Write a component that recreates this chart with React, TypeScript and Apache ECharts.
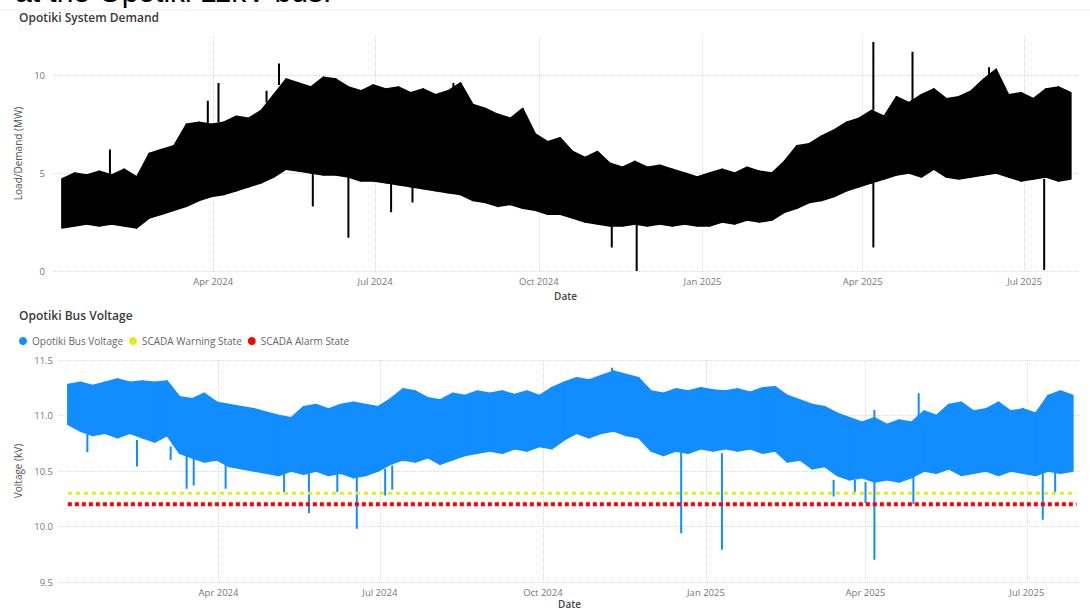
import React, { useEffect, useRef } from "react";
import * as echarts from "echarts";

// ---------- data ----------
const WEEK_START = "2024-01-07"; // first weekly sample
const AXIS_MIN = "2024-01-02";
const AXIS_MAX = "2025-07-31";
const quarterTicks = ["2024-04-01", "2024-07-01", "2024-10-01", "2025-01-01", "2025-04-01", "2025-07-01"];
const monthNames = ["Jan", "Feb", "Mar", "Apr", "May", "Jun", "Jul", "Aug", "Sep", "Oct", "Nov", "Dec"];

// weekly envelope of the system demand (MW)
const demandHigh = [
  4.7, 5.0, 4.9, 5.1, 4.9, 5.2, 4.8, 6.0, 6.2, 6.4,
  7.5, 7.6, 7.5, 7.6, 7.9, 7.8, 8.2, 9.0, 9.8, 9.6,
  9.4, 9.9, 9.8, 9.4, 9.2, 9.5, 9.3, 9.4, 9.1, 9.3,
  9.0, 9.2, 9.6, 8.5, 8.3, 8.0, 7.8, 8.3, 7.0, 6.6,
  6.8, 6.1, 5.8, 6.1, 5.5, 5.3, 5.6, 5.3, 5.4, 5.2,
  5.0, 4.8, 5.0, 5.2, 5.0, 5.3, 5.1, 5.0, 5.6, 6.4,
  6.5, 6.9, 7.2, 7.6, 7.8, 8.2, 7.9, 8.9, 8.6, 9.0,
  9.3, 8.8, 8.9, 9.2, 9.8, 10.3, 9.0, 9.1, 8.8, 9.3,
  9.4, 9.1,
];
const demandLow = [
  2.2, 2.3, 2.4, 2.3, 2.4, 2.3, 2.2, 2.7, 2.9, 3.1,
  3.3, 3.6, 3.8, 3.9, 4.1, 4.3, 4.5, 4.8, 5.2, 5.1,
  5.0, 4.9, 4.9, 4.8, 4.6, 4.6, 4.5, 4.4, 4.3, 4.2,
  4.1, 4.0, 3.9, 3.6, 3.5, 3.3, 3.4, 3.2, 3.1, 2.9,
  2.9, 2.7, 2.5, 2.4, 2.3, 2.3, 2.4, 2.3, 2.4, 2.3,
  2.4, 2.3, 2.3, 2.5, 2.4, 2.6, 2.5, 2.6, 3.0, 3.2,
  3.5, 3.6, 3.8, 4.1, 4.3, 4.5, 4.7, 4.9, 5.0, 4.8,
  5.2, 4.8, 4.7, 4.8, 4.9, 5.0, 4.8, 4.6, 4.7, 4.8,
  4.6, 4.7,
];
// isolated demand excursions: [date, from, to]
const demandSpikes: [string, number, number][] = [
  ["2024-02-03", 4.9, 6.2],
  ["2024-03-29", 7.5, 8.7],
  ["2024-04-04", 7.6, 9.6],
  ["2024-05-01", 8.6, 9.2],
  ["2024-05-08", 9.5, 10.6],
  ["2024-05-27", 5.0, 3.3],
  ["2024-06-16", 4.8, 1.7],
  ["2024-07-10", 4.5, 3.0],
  ["2024-07-22", 4.4, 3.5],
  ["2024-08-14", 9.0, 9.6],
  ["2024-11-11", 2.4, 1.2],
  ["2024-11-25", 2.4, 0.0],
  ["2025-04-07", 8.2, 11.7],
  ["2025-04-07", 4.5, 1.2],
  ["2025-04-29", 8.6, 11.2],
  ["2025-06-11", 9.8, 10.4],
  ["2025-07-12", 4.7, 0.05],
];

// weekly envelope of the bus voltage (kV)
const voltageHigh = [
  11.28, 11.30, 11.27, 11.30, 11.33, 11.30, 11.31, 11.30, 11.31, 11.17,
  11.15, 11.20, 11.12, 11.10, 11.08, 11.06, 11.03, 11.00, 10.98, 11.08,
  11.10, 11.06, 11.10, 11.12, 11.10, 11.08, 11.15, 11.24, 11.22, 11.16,
  11.14, 11.20, 11.18, 11.22, 11.20, 11.22, 11.19, 11.22, 11.18, 11.25,
  11.30, 11.34, 11.32, 11.36, 11.40, 11.37, 11.34, 11.22, 11.20, 11.24,
  11.22, 11.25, 11.23, 11.22, 11.24, 11.21, 11.25, 11.26, 11.18, 11.14,
  11.10, 11.08, 11.02, 10.98, 10.94, 10.98, 10.92, 10.96, 10.94, 11.04,
  11.00, 11.10, 11.12, 11.04, 11.06, 11.12, 11.04, 11.06, 11.02, 11.18,
  11.22, 11.18,
];
const voltageLow = [
  10.92, 10.86, 10.82, 10.84, 10.80, 10.84, 10.80, 10.76, 10.82, 10.66,
  10.62, 10.58, 10.60, 10.54, 10.52, 10.50, 10.48, 10.46, 10.50, 10.47,
  10.50, 10.46, 10.48, 10.44, 10.46, 10.50, 10.56, 10.60, 10.58, 10.62,
  10.56, 10.60, 10.64, 10.66, 10.68, 10.66, 10.70, 10.68, 10.72, 10.70,
  10.78, 10.84, 10.80, 10.84, 10.86, 10.82, 10.80, 10.68, 10.64, 10.68,
  10.66, 10.70, 10.68, 10.70, 10.68, 10.70, 10.66, 10.68, 10.58, 10.60,
  10.52, 10.54, 10.46, 10.42, 10.44, 10.40, 10.42, 10.40, 10.44, 10.50,
  10.48, 10.52, 10.46, 10.48, 10.50, 10.46, 10.50, 10.48, 10.46, 10.50,
  10.48, 10.50,
];
const voltageSpikes: [string, number, number][] = [
  ["2024-01-18", 10.85, 10.67],
  ["2024-02-15", 10.78, 10.54],
  ["2024-03-05", 10.72, 10.60],
  ["2024-03-14", 10.65, 10.34],
  ["2024-03-18", 10.63, 10.37],
  ["2024-04-05", 10.58, 10.34],
  ["2024-05-08", 10.47, 10.31],
  ["2024-05-22", 10.48, 10.12],
  ["2024-06-07", 10.48, 10.31],
  ["2024-06-18", 10.47, 9.98],
  ["2024-07-04", 10.52, 10.28],
  ["2024-07-08", 10.55, 10.33],
  ["2024-11-09", 11.38, 11.43],
  ["2024-12-18", 10.68, 9.94],
  ["2025-01-10", 10.66, 9.79],
  ["2025-03-14", 10.42, 10.27],
  ["2025-03-26", 10.42, 10.31],
  ["2025-04-01", 10.40, 10.21],
  ["2025-04-06", 10.98, 11.05],
  ["2025-04-06", 10.40, 9.70],
  ["2025-04-28", 10.46, 10.20],
  ["2025-05-01", 10.98, 11.20],
  ["2025-07-10", 10.48, 10.06],
  ["2025-07-17", 10.50, 10.31],
];
const warningLevel = 10.3;
const alarmLevel = 10.2;
const LINE_START = "2024-01-07";
const LINE_END = "2025-07-29";

// ---------- helpers ----------
const DAY = 86400000;
const ts = (s: string) => new Date(s + "T00:00:00").getTime();
const weekTs = (i: number) => ts(WEEK_START) + i * 7 * DAY;
const quarterValues = quarterTicks.map(ts);
const fmtQuarter = (v: number) => {
  const d = new Date(v);
  return `${monthNames[d.getMonth()]} ${d.getFullYear()}`;
};
const spikeData = (sp: [string, number, number][]) =>
  sp.flatMap(([d, a, b]) => [[ts(d), a], [ts(d), b], [ts(d), "-"]]);

const FONT = "Open Sans";
const gridLine = { show: true, lineStyle: { type: "dotted" as const, color: "#d9d9d9", width: 1 } };

function xAxisFor(gridIndex: number, nameGap: number) {
  return {
    type: "value",
    gridIndex,
    min: ts(AXIS_MIN),
    max: ts(AXIS_MAX),
    axisLine: { show: false },
    axisTick: { show: false, customValues: quarterValues },
    axisLabel: {
      customValues: quarterValues,
      formatter: (v: number) => fmtQuarter(v),
      color: "#777",
      fontSize: 9.5,
      fontFamily: FONT,
      margin: 5,
    },
    splitLine: { ...gridLine, customValues: quarterValues },
    name: "Date",
    nameLocation: "middle",
    nameGap,
    nameTextStyle: { color: "#444", fontSize: 10, fontWeight: 600, fontFamily: FONT },
  };
}

// band between weekly low and high, drawn segment by segment through the axes
function bandSeries(name: string, axisIndex: number, lows: number[], highs: number[], color: string) {
  return {
    name,
    type: "custom",
    xAxisIndex: axisIndex,
    yAxisIndex: axisIndex,
    clip: true,
    itemStyle: { color },
    encode: { x: 0, y: [1, 2] },
    data: lows.map((lo, i) => [weekTs(i), lo, highs[i]]),
    renderItem: (params: any, api: any) => {
      const i = params.dataIndex;
      if (i >= lows.length - 1) return null;
      const t0 = api.value(0);
      const t1 = weekTs(i + 1);
      const pts = [
        api.coord([t0, api.value(2)]),
        api.coord([t1, highs[i + 1]]),
        api.coord([t1, lows[i + 1]]),
        api.coord([t0, api.value(1)]),
      ];
      return {
        type: "polygon",
        shape: { points: pts },
        style: { fill: color, stroke: color, lineWidth: 1.5, lineJoin: "round" },
      };
    },
  };
}

export default function App() {
  const ref = useRef<HTMLDivElement>(null);

  useEffect(() => {
    if (!ref.current) return;
    const chart = echarts.init(ref.current, undefined, { renderer: "svg" });
    const demandTicks = [0, 5, 10];

    chart.setOption({
      animation: false,
      backgroundColor: "#fff",
      textStyle: { fontFamily: FONT },
      title: [
        {
          text: "Opotiki System Demand",
          left: 14,
          top: 6,
          textStyle: { fontSize: 12, fontWeight: 600, color: "#3a3a3a", fontFamily: FONT },
        },
        {
          text: "Opotiki Bus Voltage",
          left: 14,
          top: 304,
          textStyle: { fontSize: 12, fontWeight: 600, color: "#3a3a3a", fontFamily: FONT },
        },
      ],
      graphic: [
        {
          type: "text",
          left: 15,
          top: -24,
          style: {
            text: "at the Opotiki 11kV bus.",
            fontSize: 30,
            fontFamily: "Liberation Sans",
            fill: "#000",
          },
        },
        {
          type: "line",
          shape: { x1: 0, y1: 10, x2: 1090, y2: 10 },
          style: { stroke: "#eeeeee", lineWidth: 1 },
        },
      ],
      legend: {
        left: 14,
        top: 331,
        icon: "circle",
        itemWidth: 8,
        itemHeight: 8,
        itemGap: 6,
        textStyle: { fontSize: 10, color: "#666", fontFamily: FONT },
        data: ["Opotiki Bus Voltage", "SCADA Warning State", "SCADA Alarm State"],
      },
      grid: [
        { left: 53, right: 12, top: 36, height: 235 },
        { left: 59, right: 10, top: 360, height: 222 },
      ],
      xAxis: [xAxisFor(0, 20), xAxisFor(1, 17)],
      yAxis: [
        {
          type: "value",
          gridIndex: 0,
          min: 0,
          max: 12,
          axisLine: { show: false },
          axisTick: { show: false, customValues: demandTicks },
          axisLabel: { customValues: demandTicks, color: "#777", fontSize: 9.5, fontFamily: FONT, margin: 8 },
          splitLine: { ...gridLine, customValues: demandTicks },
          name: "Load/Demand (MW)",
          nameLocation: "middle",
          nameGap: 24,
          nameTextStyle: { color: "#555", fontSize: 10, fontFamily: FONT },
        },
        {
          type: "value",
          gridIndex: 1,
          min: 9.5,
          max: 11.5,
          interval: 0.5,
          axisLine: { show: false },
          axisTick: { show: false },
          axisLabel: {
            formatter: (v: number) => v.toFixed(1),
            color: "#777",
            fontSize: 9.5,
            fontFamily: FONT,
            margin: 6,
          },
          splitLine: gridLine,
          name: "Voltage (kV)",
          nameLocation: "middle",
          nameGap: 30,
          nameTextStyle: { color: "#555", fontSize: 10, fontFamily: FONT },
        },
      ],
      series: [
        bandSeries("Opotiki System Demand", 0, demandLow, demandHigh, "#000000"),
        {
          name: "demandSpikes",
          type: "line",
          xAxisIndex: 0,
          yAxisIndex: 0,
          symbol: "none",
          connectNulls: false,
          lineStyle: { color: "#000", width: 2 },
          data: spikeData(demandSpikes),
        },
        bandSeries("Opotiki Bus Voltage", 1, voltageLow, voltageHigh, "#118DFF"),
        {
          name: "voltageSpikes",
          type: "line",
          xAxisIndex: 1,
          yAxisIndex: 1,
          symbol: "none",
          connectNulls: false,
          lineStyle: { color: "#118DFF", width: 2 },
          data: spikeData(voltageSpikes),
        },
        {
          name: "SCADA Warning State",
          type: "line",
          xAxisIndex: 1,
          yAxisIndex: 1,
          symbol: "none",
          itemStyle: { color: "#E2EE0A" },
          lineStyle: { color: "#E2EE0A", width: 3, type: [4, 4] },
          data: [[ts(LINE_START), warningLevel], [ts(LINE_END), warningLevel]],
          z: 5,
        },
        {
          name: "SCADA Alarm State",
          type: "line",
          xAxisIndex: 1,
          yAxisIndex: 1,
          symbol: "none",
          itemStyle: { color: "#FF0000" },
          lineStyle: { color: "#FF0000", width: 4, type: [4, 3] },
          data: [[ts(LINE_START), alarmLevel], [ts(LINE_END), alarmLevel]],
          z: 5,
        },
      ],
    });

    return () => chart.dispose();
  }, []);

  return (
    <div
      ref={ref}
      style={{ position: "fixed", left: 0, top: 0, width: 1090, height: 611, background: "#fff" }}
    />
  );
}
